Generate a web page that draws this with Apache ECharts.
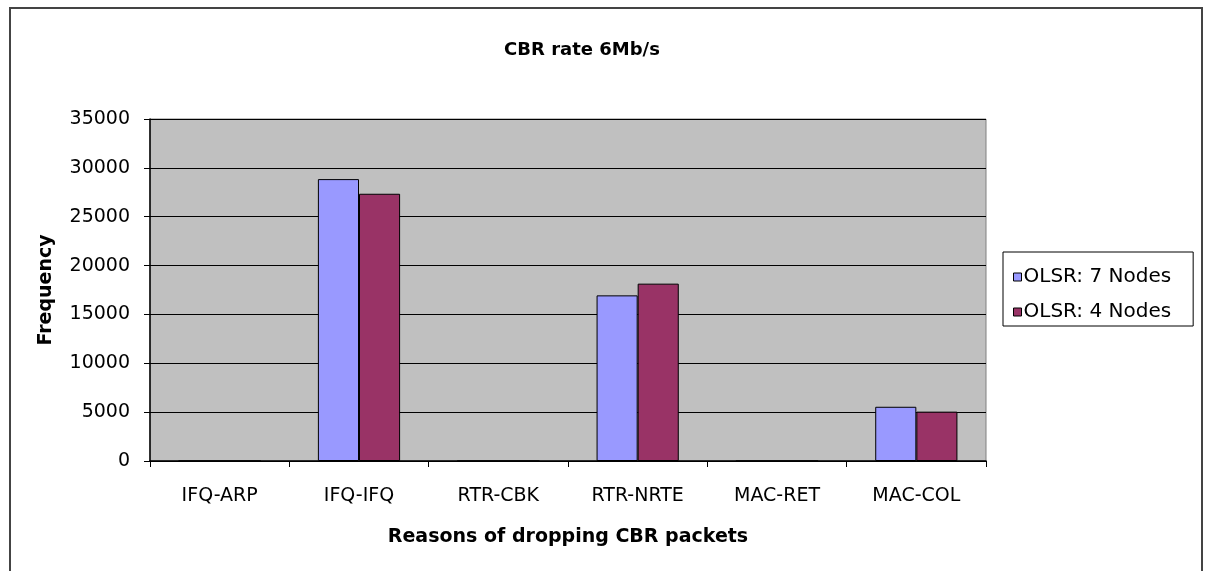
<!DOCTYPE html>
<html>
<head>
<meta charset="utf-8">
<script src="https://cdn.jsdelivr.net/npm/echarts@6/dist/echarts.min.js"></script>
<style>
html,body{margin:0;padding:0;background:#fff;}
#chart{width:1209px;height:571px;}
</style>
</head>
<body>
<div id="chart"></div>
<script>
var categories = ['IFQ-ARP', 'IFQ-IFQ', 'RTR-CBK', 'RTR-NRTE', 'MAC-RET', 'MAC-COL'];
var seriesNames = ['OLSR: 7 Nodes', 'OLSR: 4 Nodes'];
var nodes7 = [0, 28850, 0, 16950, 0, 5550];
var nodes4 = [0, 27350, 0, 18150, 0, 5050];
var yTicks = [0, 5000, 10000, 15000, 20000, 25000, 30000, 35000];

var chart = echarts.init(document.getElementById('chart'));
var font = 'DejaVu Sans, Verdana, sans-serif';
chart.setOption({
  animation: false,
  backgroundColor: '#ffffff',
  title: {
    text: 'CBR rate 6Mb/s',
    left: 577, top: 36, textAlign: 'center',
    textStyle: { fontFamily: font, fontSize: 18, fontWeight: 'bold', color: '#000' }
  },
  graphic: [{
    type: 'rect', z: -1, silent: true,
    shape: { x: 10, y: 8, width: 1192, height: 575 },
    style: { fill: 'none', stroke: '#444', lineWidth: 2 }
  }],
  legend: {
    orient: 'vertical',
    left: 1003, top: 252,
    padding: [15, 22, 4, 10],
    borderColor: '#000', borderWidth: 1,
    backgroundColor: '#fff',
    itemWidth: 8, itemHeight: 8, itemGap: 15,
    icon: 'rect',
    itemStyle: { borderColor: '#000', borderWidth: 1 },
    textStyle: { fontFamily: font, fontSize: 20, lineHeight: 20, color: '#000', padding: [0, 0, 0, -3] },
    data: seriesNames
  },
  grid: { left: 150, right: 223, top: 119, bottom: 110, show: true, backgroundColor: '#c0c0c0', borderColor: '#808080', borderWidth: 1 },
  xAxis: {
    type: 'category',
    data: categories,
    name: 'Reasons of dropping CBR packets',
    nameLocation: 'middle', nameGap: 67,
    nameTextStyle: { fontFamily: font, fontSize: 19, fontWeight: 'bold', color: '#000' },
    axisLine: { lineStyle: { color: '#000', width: 1.5 } },
    axisTick: { show: true, length: 6, lineStyle: { color: '#000' } },
    axisLabel: { fontFamily: font, fontSize: 19, color: '#000', margin: 26 }
  },
  yAxis: {
    type: 'value',
    min: 0, max: 35000, interval: 5000,
    name: 'Frequency',
    nameLocation: 'middle', nameGap: 94, nameRotate: 90,
    nameTextStyle: { fontFamily: font, fontSize: 19, fontWeight: 'bold', color: '#000' },
    axisLine: { show: true, lineStyle: { color: '#000', width: 1.5 } },
    axisTick: { show: true, length: 6, lineStyle: { color: '#000' } },
    axisLabel: { fontFamily: font, fontSize: 19, color: '#000', margin: 20,
      formatter: function (v) { return yTicks.indexOf(v) >= 0 ? String(v) : ''; } },
    splitLine: { show: true, lineStyle: { color: '#000', width: 1 } }
  },
  series: [
    { name: seriesNames[0], type: 'bar', data: nodes7, barGap: '0%', barCategoryGap: '41%',
      itemStyle: { color: '#9999ff', borderColor: '#000', borderWidth: 1 } },
    { name: seriesNames[1], type: 'bar', data: nodes4,
      itemStyle: { color: '#993366', borderColor: '#000', borderWidth: 1 } }
  ]
});
</script>
</body>
</html>
